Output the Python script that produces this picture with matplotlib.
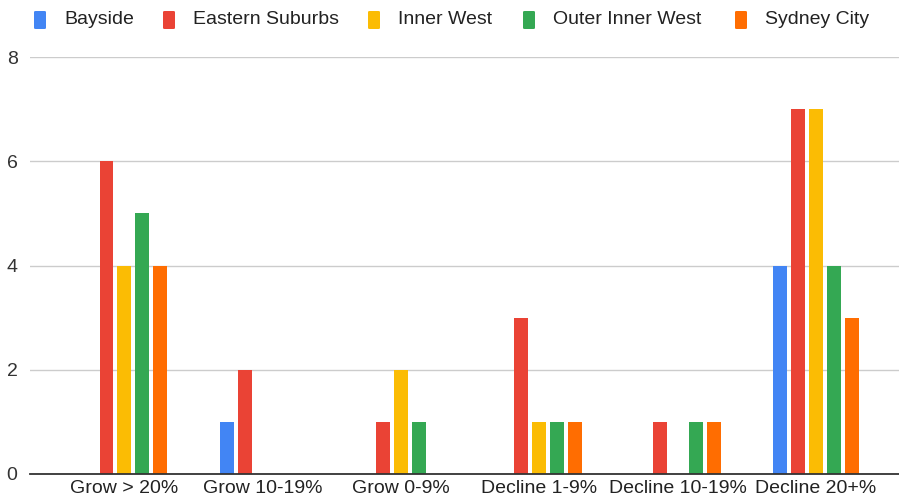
import matplotlib
matplotlib.use("Agg")
import matplotlib.pyplot as plt
import numpy as np
from matplotlib.patches import FancyBboxPatch

categories = ["Grow > 20%", "Grow 10-19%", "Grow 0-9%", "Decline 1-9%", "Decline 10-19%", "Decline 20+%"]
series_names = ["Bayside", "Eastern Suburbs", "Inner West", "Outer Inner West", "Sydney City"]
bayside = [0, 1, 0, 0, 0, 4]
eastern_suburbs = [6, 2, 1, 3, 1, 7]
inner_west = [4, 0, 2, 1, 0, 7]
outer_inner_west = [5, 0, 1, 1, 1, 4]
sydney_city = [4, 0, 0, 1, 1, 3]
series_values = [bayside, eastern_suburbs, inner_west, outer_inner_west, sydney_city]
colors = ["#4285F4", "#EA4335", "#FBBC04", "#34A853", "#FF6D01"]
y_ticks = [0, 2, 4, 6, 8]

plt.rcParams['font.family'] = ['Liberation Sans', 'DejaVu Sans']

W, H = 899, 497
fig = plt.figure(figsize=(W / 100, H / 100), dpi=100)
ax_left, ax_right, ax_top, ax_bottom = 30, 899, 57, 474
ax = fig.add_axes([ax_left / W, (H - ax_bottom) / H, (ax_right - ax_left) / W, (ax_bottom - ax_top) / H])

x = np.arange(len(categories))
pitch = 0.130
width = 0.101
for i, (vals, col) in enumerate(zip(series_values, colors)):
    offs = (i - 2) * pitch
    ax.bar(x + offs, vals, width=width, color=col, zorder=3, linewidth=0)

ax.set_xlim(-0.683, 5.60)
ax.set_ylim(0, 8)
ax.set_yticks(y_ticks)
ax.set_yticklabels([str(t) for t in y_ticks], fontsize=14, color="#333333")
ax.set_xticks(x)
ax.set_xticklabels(categories, fontsize=14, color="#222222")
ax.tick_params(axis="both", length=0)
ax.tick_params(axis="y", pad=9)
ax.tick_params(axis="x", pad=4.5)
ax.grid(axis="y", color="#cccccc", linewidth=1, zorder=0)
for s in ["top", "right", "left"]:
    ax.spines[s].set_visible(False)
ax.spines["bottom"].set_color("#333333")
ax.spines["bottom"].set_linewidth(1.3)
ax.spines["bottom"].set_zorder(4)
ax.set_axisbelow(True)

# legend
text_x = [64, 193, 398, 553, 765]
leg_y = 20
for name, col, tx in zip(series_names, colors, text_x):
    sq_w, sq_h = 12, 18
    fig.patches.append(FancyBboxPatch(((tx - 18 - sq_w) / W, (H - leg_y - sq_h / 2) / H), sq_w / W, sq_h / H,
                                      boxstyle="round,pad=0,rounding_size=0.002",
                                      transform=fig.transFigure, facecolor=col, edgecolor="none"))
    fig.text(tx / W, (H - leg_y) / H, name, fontsize=14, color="#222222", va="center", ha="left")

fig.savefig("out.png", dpi=100)
